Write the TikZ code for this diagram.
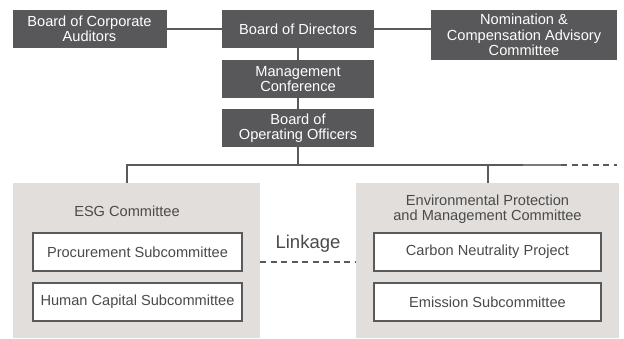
\documentclass[tikz,border=0pt]{standalone}
\usepackage{fontspec}
\setmainfont{Liberation Sans}
\definecolor{darkbox}{HTML}{58585A}
\definecolor{panelc}{HTML}{E2DEDB}
\definecolor{linec}{HTML}{5A5A5A}
\definecolor{linelt}{HTML}{7C7C7C}
\definecolor{textc}{HTML}{4A4A4A}
\begin{document}
\begin{tikzpicture}[x=1pt,y=-1pt,
  txt/.style={font=\fontsize{14.6}{15.5}\selectfont},
  dbox/.style={txt, fill=darkbox, text=white, inner sep=0pt, align=center},
  panel/.style={fill=panelc, inner sep=0pt},
  wbox/.style={txt, draw=linec, line width=1.2pt, fill=white, text=textc, inner sep=0pt,
    minimum width=209pt, minimum height=38pt},
  wboxr/.style={wbox, minimum width=227pt},
  conn/.style={draw=linec, line width=2pt},
  dashconn/.style={conn, dash pattern=on 6pt off 4.5pt}]
\useasboundingbox (0,0) rectangle (624,338);
% top row
\node[dbox, minimum width=154pt, minimum height=38pt] (aud) at (89.5,29) {Board of Corporate\\Auditors};
\node[dbox, minimum width=152pt, minimum height=38pt] (dir) at (298,29) {Board of Directors};
\node[dbox, minimum width=186pt, minimum height=50pt] (nom) at (524,35) {Nomination \&\\Compensation Advisory\\Committee};
\node[dbox, minimum width=152pt, minimum height=38pt] (mgmt) at (298,79) {Management\\Conference};
\node[dbox, minimum width=152pt, minimum height=38pt] (ops) at (298,128) {Board of\\Operating Officers};
% panels
\node[panel, minimum width=247pt, minimum height=155pt] (esg) at (136.5,260.5) {};
\node[panel, minimum width=263pt, minimum height=155pt] (env) at (487.5,260.5) {};
\node[txt, text=textc] (esgt) at (127,211) {ESG Committee};
\node[txt, text=textc, align=center] (envt) at (487.5,209) {Environmental Protection\\and Management Committee};
\node[wbox] (proc) at (137.5,252) {Procurement Subcommittee};
\node[wbox] (hum) at (137.5,302) {Human Capital Subcommittee};
\node[wboxr] (carb) at (487.5,252) {Carbon Neutrality Project};
\node[wboxr] (emis) at (487.5,302) {Emission Subcommittee};
\node[font=\fontsize{18.5}{20}\selectfont, text=textc] (link) at (308,244) {Linkage};
% connectors
\draw[conn] (aud) -- (dir);
\draw[conn] (dir) -- (dir -| nom.west);
\draw[conn] (dir) -- (mgmt);
\draw[conn] (mgmt) -- (ops);
\coordinate (hl) at (127,165);
\coordinate (hr) at (523,165);
\coordinate (hd) at (561,165);
\coordinate (he) at (617,165);
\coordinate (lk) at (0,262);
\draw[conn] (ops.south) -- (ops.south |- hl);
\draw[conn] (esg.north -| hl) -- (hl) -- (hr);
\draw[conn] (env.north) -- (env.north |- hl);
\draw[conn, draw=linelt] (hr) -- (hd);
\draw[dashconn] (hd) -- (he);
\draw[dashconn] (esg.east |- lk) -- (env.west |- lk);
\end{tikzpicture}
\end{document}
